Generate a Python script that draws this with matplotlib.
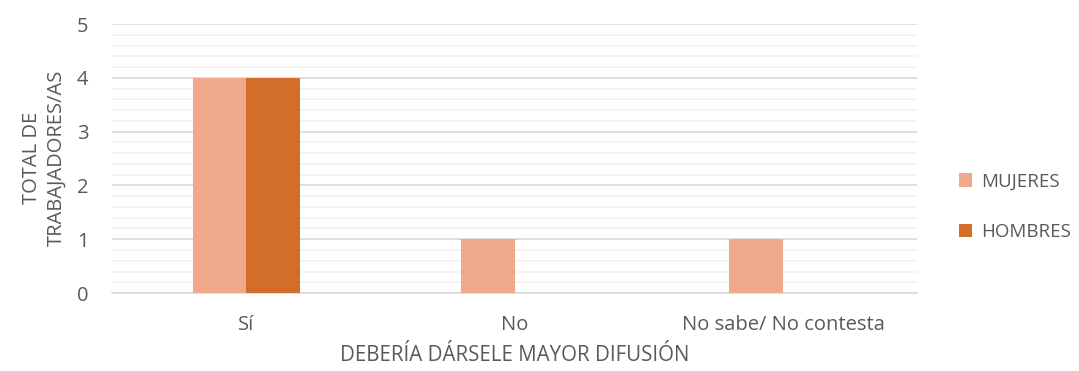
import matplotlib.pyplot as plt
import numpy as np

categories = ['Sí', 'No', 'No sabe/ No contesta']
mujeres = [4, 1, 1]
hombres = [4, 0, 0]

plt.rcParams['font.family'] = ['Open Sans', 'DejaVu Sans']
text_color = '#595959'

fig = plt.figure(figsize=(10.79, 3.71), dpi=100)
ax = fig.add_axes([0.1038, 0.2102, 0.7462, 0.7248])

x = np.arange(len(categories))
w = 0.2
ax.bar(x - w / 2, mujeres, w, color='#F0A98A', label='MUJERES', zorder=3)
ax.bar(x + w / 2, hombres, w, color='#D36E2A', label='HOMBRES', zorder=3)

ax.set_xlim(-0.5, 2.5)
ax.set_ylim(0, 5)
ax.set_yticks(range(6))
ax.set_yticks(np.arange(0, 5.01, 0.2), minor=True)
ax.grid(True, which='major', axis='y', color='#D9D9D9', linewidth=1.2, zorder=0)
ax.grid(True, which='minor', axis='y', color='#F2F2F2', linewidth=1.2, zorder=0)
ax.tick_params(axis='both', which='both', length=0, colors=text_color, labelsize=14.5)
ax.tick_params(axis='y', pad=17)
ax.tick_params(axis='x', pad=16)
ax.set_xticks(x)
ax.set_xticklabels(categories)
for s in ['top', 'right', 'left']:
    ax.spines[s].set_visible(False)
ax.spines['bottom'].set_color('#D9D9D9')
ax.spines['bottom'].set_linewidth(1.2)

# y label: two rotated lines, each centred on the plot area
for xpos, line in [(0.030, 'TOTAL DE'), (0.052, 'TRABAJADORES/AS')]:
    fig.text(xpos, 0.574, line, rotation=90, ha='center', va='center',
             color=text_color, fontsize=14.5)
ax.set_xlabel('DEBERÍA DÁRSELE MAYOR DIFUSIÓN', color=text_color, fontsize=14.8, labelpad=7)

leg = ax.legend(loc='center left', bbox_to_anchor=(1.052, 0.32), frameon=False,
                fontsize=13.5, labelspacing=1.75, handlelength=0.7, handleheight=0.7,
                handletextpad=0.5, borderpad=0, borderaxespad=0)
for t in leg.get_texts():
    t.set_color(text_color)

fig.savefig('out.png', dpi=100)
